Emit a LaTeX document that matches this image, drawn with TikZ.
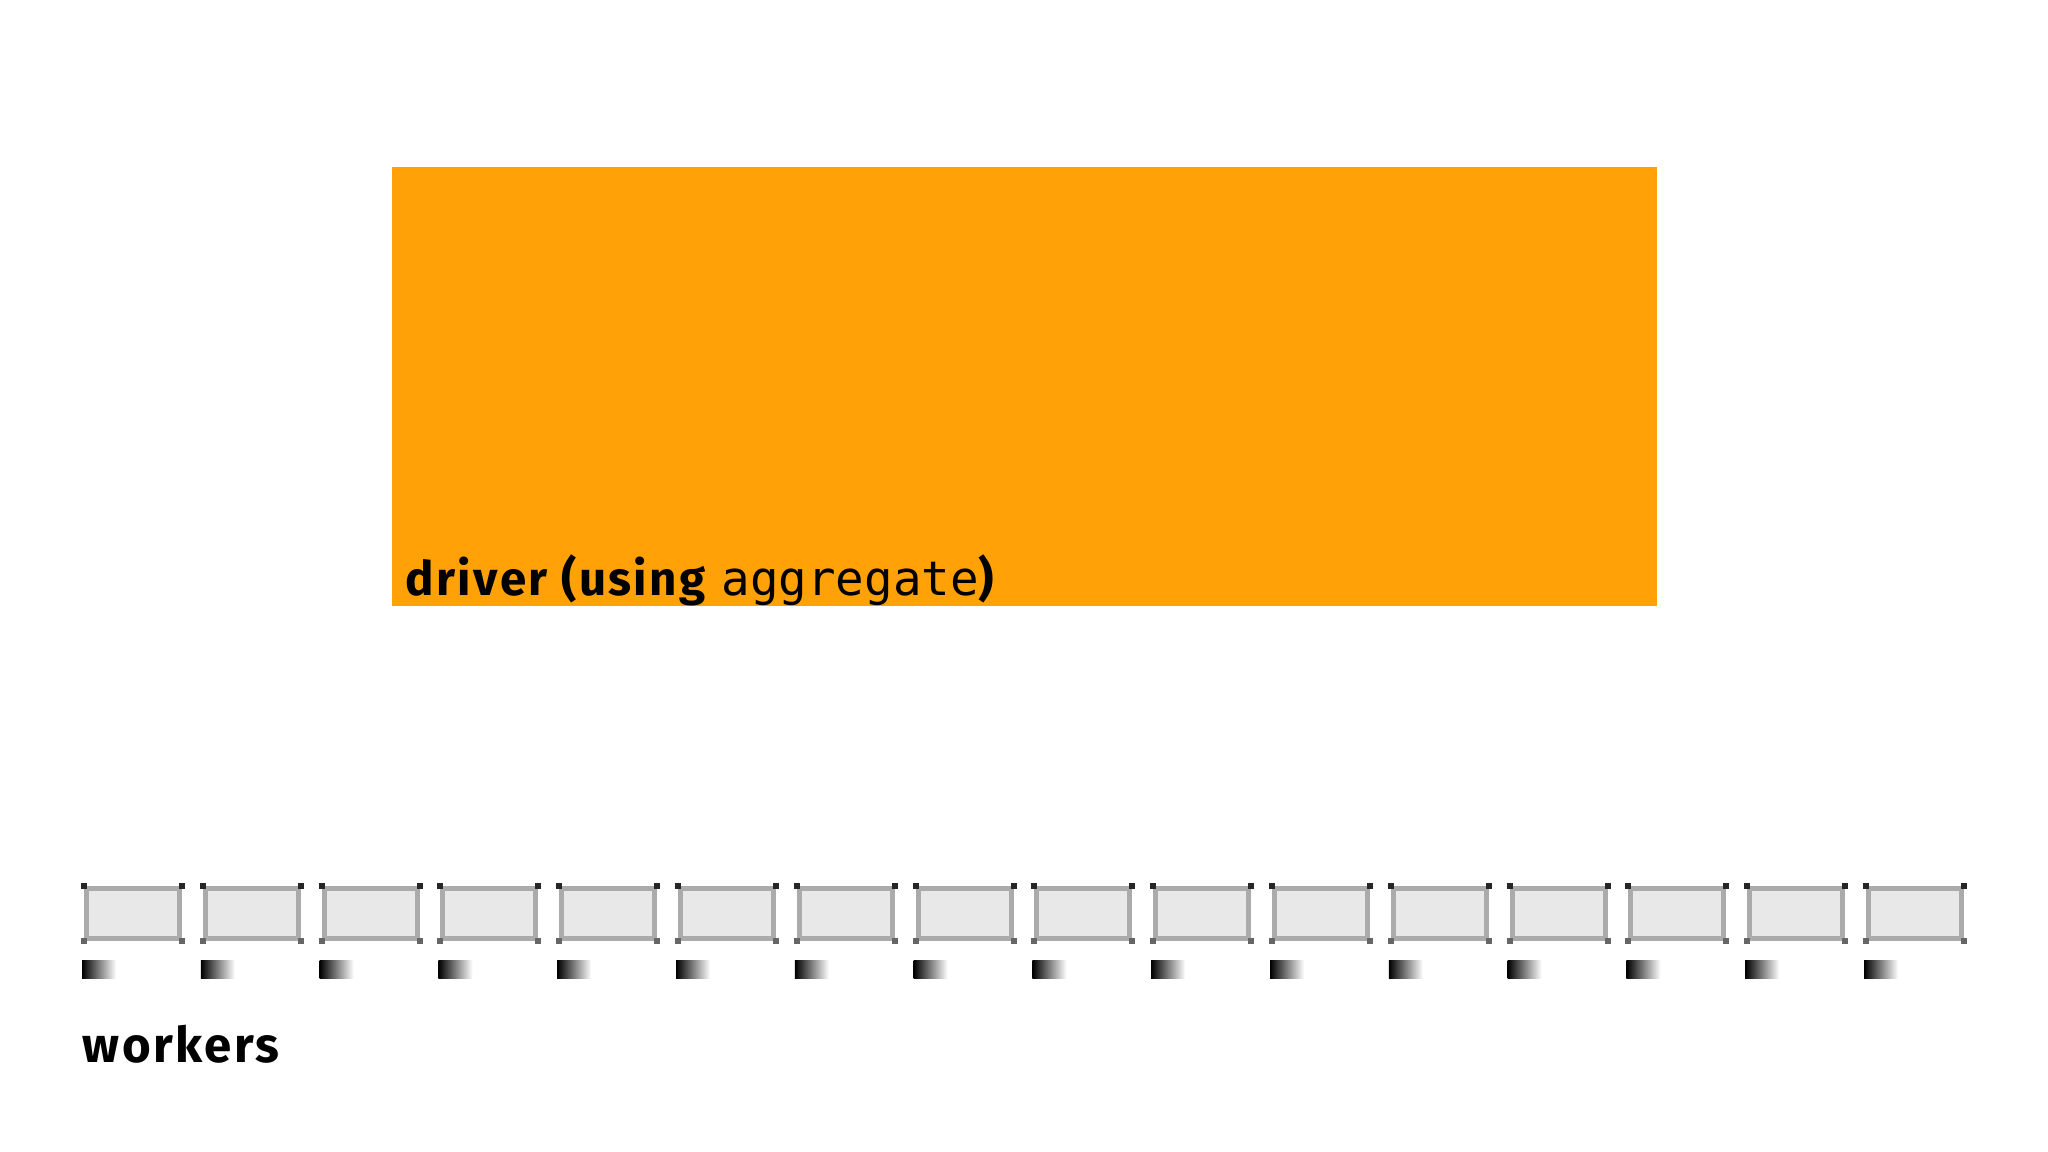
\documentclass[tikz,border=0pt]{standalone}
\usepackage{fontspec}
\setsansfont{Fira Sans}[LetterSpace=5]
\setmonofont{DejaVu Sans Mono}
\usetikzlibrary{positioning}
\definecolor{driverorange}{HTML}{FFA107}
\definecolor{workerfill}{HTML}{E8E8E8}
\definecolor{workerdraw}{HTML}{ABABAB}

\begin{document}
\begin{tikzpicture}[x=0.01cm, y=-0.01cm, line join=round]
    \useasboundingbox (0,0) rectangle (2048,1152);

    \tikzset{worker/.style={draw=workerdraw, fill=workerfill, line width=1.4pt,
        minimum width=0.93cm, minimum height=0.5cm, inner sep=0, anchor=north west},
        corner/.style={fill=black!85, minimum size=0.06cm, inner sep=0}}

    \node[fill=driverorange, minimum width=12.65cm, minimum height=4.39cm,
        inner sep=0, anchor=north west] (driver) at (391,166) {};
    \node[anchor=base west, inner sep=0, font=\sffamily\bfseries\fontsize{13.5}{16}\selectfont]
        (driverlabel) at (405,595) {driver (using \textmd{\ttfamily aggregate})};

    \foreach \i in {0,...,15} {
        \node[worker] (W\i) at ({84+118.8*\i},886) {};
        \node[corner] at (W\i.north west) {};
        \node[corner] at (W\i.north east) {};
        \node[corner, fill=black!60] at (W\i.south west) {};
        \node[corner, fill=black!60] at (W\i.south east) {};
        \shade[left color=black, right color=white] ({82+118.8*\i},960) rectangle ++(34,18);
    }

    \node[anchor=base west, inner sep=0, font=\sffamily\bfseries\fontsize{14}{16}\selectfont]
        (workers) at (82,1062) {workers};
\end{tikzpicture}
\end{document}
